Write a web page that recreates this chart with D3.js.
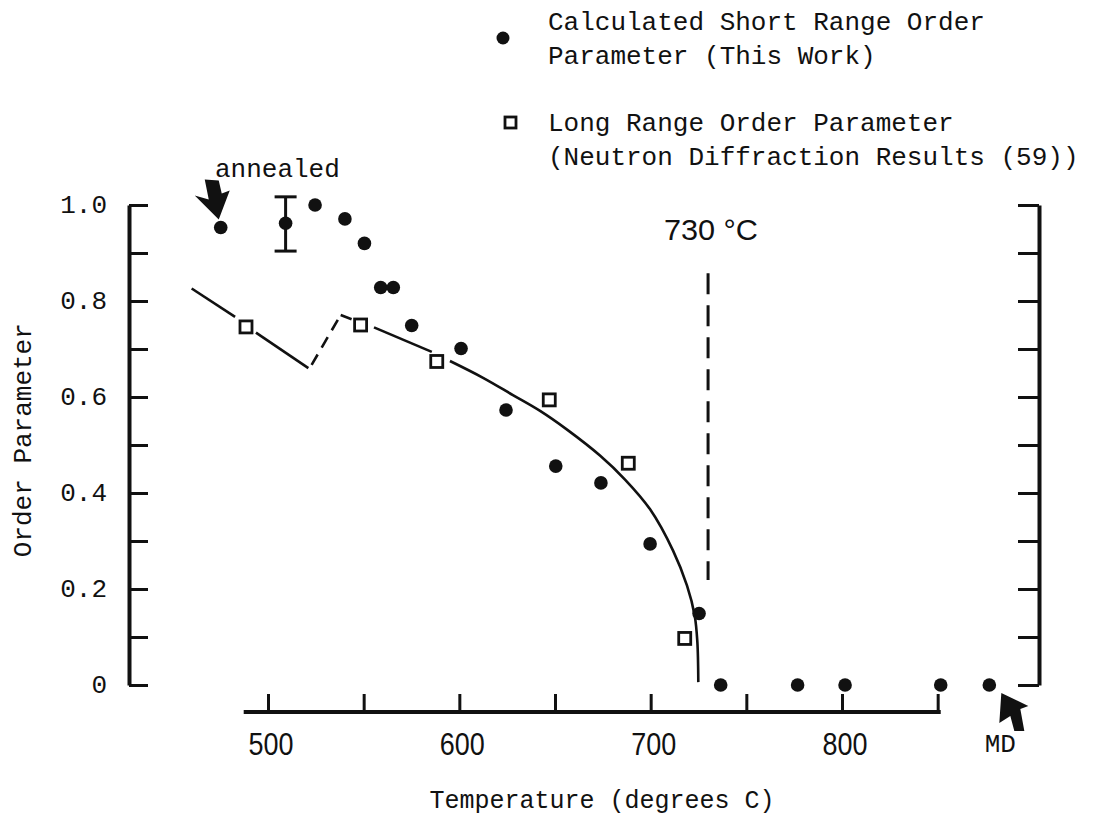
<!DOCTYPE html>
<html><head><meta charset="utf-8">
<script src="https://cdn.jsdelivr.net/npm/d3@7"></script>
<style>
html,body{margin:0;padding:0;background:#fff;}
svg{display:block;}
.mono{font-family:"Liberation Mono","DejaVu Sans Mono",monospace;fill:#111;}
.sans{font-family:"Liberation Sans",Arial,sans-serif;fill:#111;}
</style></head>
<body>
<svg id="chart" width="1100" height="822"></svg>
<script>
// ---- data ----
const srTemp = [475.3, 509.2, 524.6, 540.2, 550.4, 558.9, 565.5, 575.1, 600.9, 624.4, 650.4, 674.0, 699.7, 725.3, 736.6, 776.8, 801.6, 851.6, 877.0];
const srOrder = [0.953, 0.962, 1.0, 0.971, 0.920, 0.828, 0.828, 0.749, 0.701, 0.573, 0.456, 0.421, 0.294, 0.149, 0, 0, 0, 0, 0];
const lrTemp = [488.5, 548.4, 588.2, 647.0, 688.3, 717.8];
const lrOrder = [0.746, 0.750, 0.674, 0.594, 0.462, 0.097];
const errTemp = [509.2];
const errLow = [0.904];
const errHigh = [1.017];
// long-range guide line pieces (temperature, order)
const lineA = [[460.1, 0.826], [482.8, 0.767]];
const lineB = [[493.7, 0.734], [521.1, 0.660]];
const lineDash = [[522.8, 0.667], [538.0, 0.771]];
const lineC = [[538.0, 0.771], [543.7, 0.762]];
const lineD = [[555.4, 0.745], [585.6, 0.694]];
const curveT = [595.1, 612.4, 628.0, 642.2, 656.3, 673.5, 686.6, 699.7, 711.7, 719.0, 723.0, 724.4, 724.9];
const curveV = [0.675, 0.640, 0.604, 0.571, 0.532, 0.478, 0.428, 0.366, 0.280, 0.207, 0.145, 0.090, 0.006];
const transitionTemp = 730;
const transitionRange = [0.219, 0.858];
const xTicks = [500, 550, 600, 650, 700, 750, 800, 850];
const xLabels = [500, 600, 700, 800];
const yTicks = [0, 0.1, 0.2, 0.3, 0.4, 0.5, 0.6, 0.7, 0.8, 0.9, 1.0];
const yLabels = [0, 0.2, 0.4, 0.6, 0.8, 1.0];
const mdTemp = 877.0;

const svg = d3.select("#chart");
const x = d3.scaleLinear().domain([500, 800]).range([268, 842]);
const y = d3.scaleLinear().domain([0, 1]).range([685, 205]);

// ---- x axis ----
const xAxisY = 712;
const gx = svg.append("g").attr("transform", `translate(0,${xAxisY})`)
  .call(d3.axisBottom(x).tickValues(xTicks).tickSize(-18).tickSizeOuter(0).tickFormat(""));
gx.select(".domain").remove();
gx.selectAll(".tick line").attr("stroke", "#111").attr("stroke-width", 3);
svg.append("line").attr("x1", x(487.3)).attr("x2", x(851.6)).attr("y1", xAxisY).attr("y2", xAxisY)
  .attr("stroke", "#111").attr("stroke-width", 4);
xLabels.forEach(v => {
  svg.append("text").attr("class", "sans").attr("x", x(v) + 3).attr("y", 755)
    .attr("text-anchor", "middle").attr("font-size", 32)
    .attr("textLength", 45).attr("lengthAdjust", "spacingAndGlyphs").text(v);
});
svg.append("text").attr("class", "mono").attr("x", x(mdTemp) + 11).attr("y", 752)
  .attr("text-anchor", "middle").attr("font-size", 26).text("MD");

// ---- left / right y axes ----
const leftX = 129, rightX = 1039;
const gl = svg.append("g").attr("transform", `translate(${leftX},0)`)
  .call(d3.axisRight(y).tickValues(yTicks).tickSize(19).tickSizeOuter(0).tickFormat(""));
gl.select(".domain").attr("stroke", "#111").attr("stroke-width", 4);
gl.selectAll(".tick line").attr("stroke", "#111").attr("stroke-width", 3);
yLabels.forEach(v => {
  svg.append("text").attr("class", "mono").attr("x", 107).attr("y", y(v) + 8)
    .attr("text-anchor", "end").attr("font-size", 26).text(v === 0 ? "0" : d3.format(".1f")(v));
});
const gr = svg.append("g").attr("transform", `translate(${rightX},0)`)
  .call(d3.axisLeft(y).tickValues(yTicks).tickSize(21).tickSizeOuter(0).tickFormat(""));
gr.select(".domain").attr("stroke", "#111").attr("stroke-width", 4);
gr.selectAll(".tick line").attr("stroke", "#111").attr("stroke-width", 3);

// axis titles
svg.append("text").attr("class", "mono").attr("font-size", 26)
  .attr("transform", `translate(31,${y(0.51)}) rotate(-90)`).attr("text-anchor", "middle").text("Order Parameter");
svg.append("text").attr("class", "mono").attr("font-size", 25)
  .attr("x", 602).attr("y", 808).attr("text-anchor", "middle").text("Temperature (degrees C)");

// ---- transition line ----
svg.append("line").attr("x1", x(transitionTemp)).attr("x2", x(transitionTemp))
  .attr("y1", y(transitionRange[1])).attr("y2", y(transitionRange[0]))
  .attr("stroke", "#111").attr("stroke-width", 3).attr("stroke-dasharray", "21,11");
svg.append("text").attr("class", "sans").attr("font-size", 30)
  .attr("x", 664).attr("y", 240).attr("textLength", 94).attr("lengthAdjust", "spacingAndGlyphs").text("730 °C");

// ---- long range guide lines ----
const line = d3.line().x(d => x(d[0])).y(d => y(d[1]));
[lineA, lineB, lineC, lineD].forEach(seg => {
  svg.append("path").attr("d", line(seg)).attr("fill", "none").attr("stroke", "#111").attr("stroke-width", 2.6);
});
svg.append("path").attr("d", line(lineDash)).attr("fill", "none").attr("stroke", "#111")
  .attr("stroke-width", 2.6).attr("stroke-dasharray", "12,8");
const curvePts = curveT.map((t, i) => [t, curveV[i]]);
svg.append("path").attr("d", d3.line().x(d => x(d[0])).y(d => y(d[1])).curve(d3.curveCatmullRom.alpha(0.5))(curvePts))
  .attr("fill", "none").attr("stroke", "#111").attr("stroke-width", 2.6);

// ---- long range squares ----
const sq = 12;
svg.append("g").selectAll("rect").data(lrTemp.map((t, i) => [t, lrOrder[i]])).join("rect")
  .attr("x", d => x(d[0]) - sq / 2).attr("y", d => y(d[1]) - sq / 2)
  .attr("width", sq).attr("height", sq).attr("fill", "#fff").attr("stroke", "#111").attr("stroke-width", 2.8);

// ---- error bar ----
errTemp.forEach((t, i) => {
  const g = svg.append("g").attr("stroke", "#111").attr("stroke-width", 3);
  g.append("line").attr("x1", x(t)).attr("x2", x(t)).attr("y1", y(errHigh[i])).attr("y2", y(errLow[i]));
  g.append("line").attr("x1", x(t) - 11).attr("x2", x(t) + 11).attr("y1", y(errHigh[i])).attr("y2", y(errHigh[i]));
  g.append("line").attr("x1", x(t) - 11).attr("x2", x(t) + 11).attr("y1", y(errLow[i])).attr("y2", y(errLow[i]));
});

// ---- short range dots ----
svg.append("g").selectAll("circle").data(srTemp.map((t, i) => [t, srOrder[i]])).join("circle")
  .attr("cx", d => x(d[0])).attr("cy", d => y(d[1])).attr("r", 6.8).attr("fill", "#111");

// ---- annotations ----
const ax = x(srTemp[0]), ay = y(srOrder[0]);
svg.append("path").attr("fill", "#111")
  .attr("d", `M${ax-16},${ay-48} L${ax-2},${ay-47} L${ax+1},${ay-34} L${ax+9},${ay-37} L${ax-2},${ay-8} L${ax-26},${ay-32} L${ax-12},${ay-28} Z`);
svg.append("text").attr("class", "mono").attr("font-size", 26).attr("x", 215).attr("y", 177).text("annealed");
const mx = x(mdTemp), my = y(0);
svg.append("path").attr("fill", "#111")
  .attr("d", `M${mx+12},${my+8} L${mx+39},${my+21} L${mx+31},${my+24} L${mx+35},${my+46} L${mx+25},${my+46} L${mx+21},${my+31} L${mx+10},${my+38} Z`);

// ---- legend ----
svg.append("circle").attr("cx", 503).attr("cy", 38).attr("r", 6.5).attr("fill", "#111");
svg.append("rect").attr("x", 505).attr("y", 117).attr("width", 11).attr("height", 11)
  .attr("fill", "#fff").attr("stroke", "#111").attr("stroke-width", 2.8);
const legendLines = [["Calculated Short Range Order", 30], ["Parameter (This Work)", 64],
  ["Long Range Order Parameter", 131], ["(Neutron Diffraction Results (59))", 165]];
legendLines.forEach(([t, yy]) => {
  svg.append("text").attr("class", "mono").attr("font-size", 26).attr("x", 548).attr("y", yy).text(t);
});
</script>
</body></html>
